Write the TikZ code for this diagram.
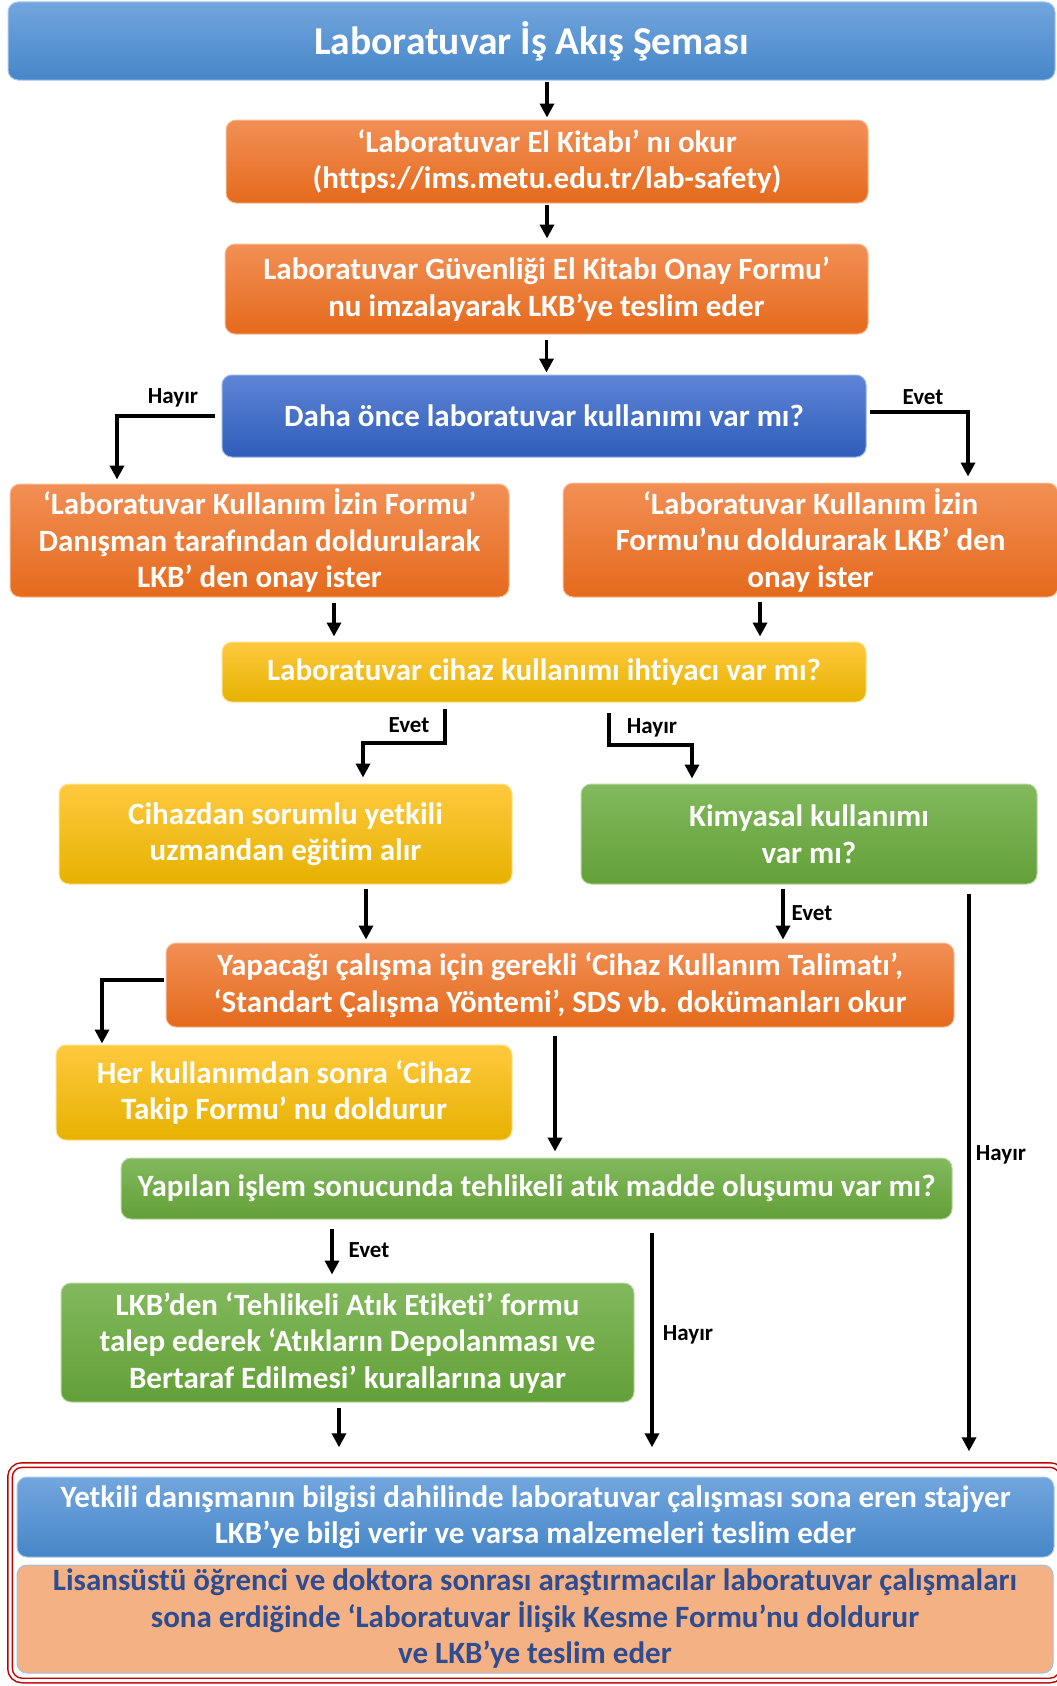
\documentclass[tikz,border=0pt]{standalone}
\usepackage{fontspec}
\setmainfont{Carlito}[Ligatures=NoCommon]
\usetikzlibrary{arrows.meta}
\definecolor{blT}{RGB}{114,166,222}
\definecolor{blB}{RGB}{70,134,200}
\definecolor{blL}{RGB}{170,200,235}
\definecolor{dbT}{RGB}{94,132,214}
\definecolor{dbB}{RGB}{46,93,186}
\definecolor{dbL}{RGB}{150,175,230}
\definecolor{orT}{RGB}{242,143,85}
\definecolor{orB}{RGB}{229,106,28}
\definecolor{orL}{RGB}{248,190,150}
\definecolor{yeT}{RGB}{255,201,62}
\definecolor{yeB}{RGB}{230,178,0}
\definecolor{yeL}{RGB}{255,225,140}
\definecolor{grT}{RGB}{130,185,93}
\definecolor{grB}{RGB}{99,160,56}
\definecolor{grL}{RGB}{185,215,165}
\definecolor{salmon}{RGB}{244,177,131}
\definecolor{salL}{RGB}{157,195,230}
\definecolor{navy}{RGB}{46,76,145}
\definecolor{frameRed}{RGB}{192,0,0}
\begin{document}
\begin{tikzpicture}[x=1pt,y=-1pt,
  bx/.style={rounded corners=10pt, line width=1pt, align=center, text=white,
    font=\bfseries\fontsize{31}{36.5}\selectfont, inner sep=0pt},
  bluebx/.style={bx, top color=blT, bottom color=blB, draw=blL},
  decbx/.style={bx, top color=dbT, bottom color=dbB, draw=dbL},
  orbx/.style={bx, top color=orT, bottom color=orB, draw=orL},
  yebx/.style={bx, top color=yeT, bottom color=yeB, draw=yeL},
  grbx/.style={bx, top color=grT, bottom color=grB, draw=grL},
  salbx/.style={bx, fill=salmon, draw=salL, text=navy},
  arr/.style={line width=3.5pt, -{Triangle[width=14pt,length=14pt]}},
  lbl/.style={font=\bfseries\fontsize{23}{27}\selectfont, text=black, inner sep=0pt}]
\useasboundingbox (0,0) rectangle (1057,1686);

% nodes
\node[bluebx, minimum width=1047pt, minimum height=78pt, font=\bfseries\fontsize{39.5}{46}\selectfont] (title) at (531.5,41) {Laboratuvar İş Akış Şeması};
\node[orbx, minimum width=642pt, minimum height=83pt] (b1) at (547,161.5) {‘Laboratuvar El Kitabı’ nı okur\\(https://ims.metu.edu.tr/lab-safety)};
\node[orbx, minimum width=643pt, minimum height=90pt] (b2) at (546.5,289) {Laboratuvar Güvenliği El Kitabı Onay Formu’\\nu imzalayarak LKB’ye teslim eder};
\node[decbx, minimum width=644pt, minimum height=82pt] (b3) at (544,416) {Daha önce laboratuvar kullanımı var mı?};
\node[orbx, minimum width=499pt, minimum height=113pt] (b4a) at (259.5,540.5) {‘Laboratuvar Kullanım İzin Formu’\\Danışman tarafından doldurularak\\LKB’ den onay ister};
\node[orbx, minimum width=495pt, minimum height=114pt] (b4b) at (810.5,540) {‘Laboratuvar Kullanım İzin\\Formu’nu doldurarak LKB’ den\\onay ister};
\node[yebx, minimum width=644pt, minimum height=60pt] (b5) at (544,672) {Laboratuvar cihaz kullanımı ihtiyacı var mı?};
\node[yebx, minimum width=453pt, minimum height=100pt] (b6a) at (285.5,834) {Cihazdan sorumlu yetkili\\uzmandan eğitim alır};
\node[grbx, minimum width=456pt, minimum height=100pt] (b6b) at (809,834) {Kimyasal kullanımı\\var mı?};
\node[orbx, minimum width=788pt, minimum height=84pt] (b7) at (560,985) {Yapacağı çalışma için gerekli ‘Cihaz Kullanım Talimatı’,\\‘Standart Çalışma Yöntemi’, SDS vb. dokümanları okur};
\node[yebx, minimum width=456pt, minimum height=95pt] (b8) at (284,1092.5) {Her kullanımdan sonra ‘Cihaz\\Takip Formu’ nu doldurur};
\node[grbx, minimum width=831pt, minimum height=61pt] (b9) at (536.5,1188.5) {Yapılan işlem sonucunda tehlikeli atık madde oluşumu var mı?};
\node[grbx, minimum width=573pt, minimum height=119pt] (b10) at (347.5,1342.5) {LKB’den ‘Tehlikeli Atık Etiketi’ formu\\talep ederek ‘Atıkların Depolanması ve\\Bertaraf Edilmesi’ kurallarına uyar};
\node[draw=frameRed, line width=1.5pt, double=white, double distance=3pt, rounded corners=12pt,
      minimum width=1052pt, minimum height=215.5pt, inner sep=0pt] (frame) at (536,1572.75) {};
\node[bluebx, minimum width=1037pt, minimum height=80pt] (b11) at (535.5,1517) {Yetkili danışmanın bilgisi dahilinde laboratuvar çalışması sona eren stajyer\\LKB’ye bilgi verir ve varsa malzemeleri teslim eder};
\node[salbx, minimum width=1036pt, minimum height=108pt] (b12) at (535,1619) {Lisansüstü öğrenci ve doktora sonrası araştırmacılar laboratuvar çalışmaları\\sona erdiğinde ‘Laboratuvar İlişik Kesme Formu’nu doldurur\\ve LKB’ye teslim eder};

% helper coordinates
\coordinate (hL) at (117,416);
\coordinate (eR) at (968,412);
\coordinate (k1) at (334,620);
\coordinate (k2) at (760,620);
\coordinate (k3a) at (445,743);
\coordinate (k3b) at (363,743);
\coordinate (k4a) at (609,745);
\coordinate (k4b) at (692,745);
\coordinate (k5) at (366,910);
\coordinate (k6) at (783,910);
\coordinate (k7) at (969,1100);
\coordinate (k8) at (102,980);
\coordinate (k9) at (555,1090);
\coordinate (k10) at (332,1250);
\coordinate (k11) at (652,1330);
\coordinate (k12) at (339,1430);

% connectors
\draw[arr, shorten <=1pt, shorten >=2pt] (title.south -| b1.north) -- (b1.north);
\draw[arr, shorten <=1pt, shorten >=5pt] (b1.south) -- (b2.north -| b1.south);
\draw[arr, shorten <=5pt, shorten >=2pt] (b2.south) -- (b3.north -| b2.south);
\draw[arr, shorten <=7pt, shorten >=4pt] (b3.west) -- (hL) -- (b4a.north -| hL);
\draw[arr, shorten <=3pt, shorten >=6pt] (b3.east |- eR) -- (eR) -- (b4b.north -| eR);
\draw[arr, shorten <=5pt, shorten >=5pt] (b4a.south -| k1) -- (b5.north -| k1);
\draw[arr, shorten <=4pt, shorten >=5pt] (b4b.south -| k2) -- (b5.north -| k2);
\draw[arr, shorten <=6pt, shorten >=6pt] (b5.south -| k3a) -- (k3a) -- (k3b) -- (b6a.north -| k3b);
\draw[arr, shorten <=10pt, shorten >=5pt] (b5.south -| k4a) -- (k4a) -- (k4b) -- (b6b.north -| k4b);
\draw[arr, shorten <=4pt, shorten >=3pt] (b6a.south -| k5) -- (b7.north -| k5);
\draw[arr, shorten <=4pt, shorten >=3pt] (b6b.south -| k6) -- (b7.north -| k6);
\draw[arr, shorten <=9pt, shorten >=13pt] (b6b.south -| k7) -- (frame.north -| k7);
\draw[arr, shorten <=2pt, shorten >=1pt] (b7.west |- k8) -- (k8) -- (b8.north -| k8);
\draw[arr, shorten <=8pt, shorten >=6pt] (b7.south -| k9) -- (b9.north -| k9);
\draw[arr, shorten <=9pt, shorten >=8pt] (b9.south -| k10) -- (b10.north -| k10);
\draw[arr, shorten <=13pt, shorten >=17pt] (b9.south -| k11) -- (frame.north -| k11);
\draw[arr, shorten <=5pt, shorten >=17pt] (b10.south -| k12) -- (frame.north -| k12);

% labels
\node[lbl] (l1) at (173,398) {Hayır};
\node[lbl] (l2) at (923,397) {Evet};
\node[lbl] (l3) at (409,725) {Evet};
\node[lbl] (l4) at (652,728) {Hayır};
\node[lbl] (l5) at (812,913) {Evet};
\node[lbl] (l6) at (1001,1155) {Hayır};
\node[lbl] (l7) at (369,1250) {Evet};
\node[lbl] (l8) at (688,1335) {Hayır};
\end{tikzpicture}
\end{document}
